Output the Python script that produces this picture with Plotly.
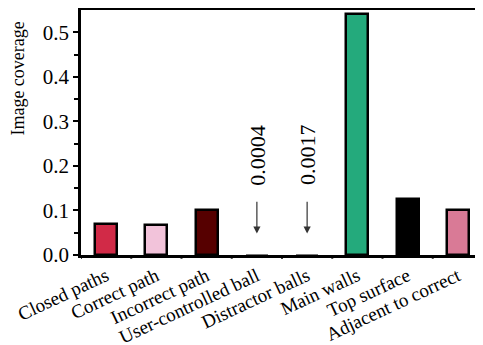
import plotly.graph_objects as go

categories = ["Closed paths", "Correct path", "Incorrect path", "User-controlled ball",
              "Distractor balls", "Main walls", "Top surface", "Adjacent to correct"]
values = [0.070, 0.067, 0.100, 0.0004, 0.0017, 0.541, 0.125, 0.101]
colors = ["#D12A47", "#F2C3DA", "#560000", "#7a7a7a", "#7a7a7a", "#24AA7C", "#000000", "#D97A96"]
annot_idx = [3, 4]
annot_text = ["0.0004", "0.0017"]
yticks = [0.0, 0.1, 0.2, 0.3, 0.4, 0.5]

FONT = "Liberation Serif"
x = list(range(len(categories)))
line_w = [2.5 if v > 0.01 else 0 for v in values]

# page body has an 8px margin, so the figure is sized to fit the window
W, H = 475, 337
ML, MT, MR, MB = 73, 2, 0, 90

fig = go.Figure()
fig.add_trace(go.Bar(
    x=x, y=values, width=0.44,
    marker=dict(color=colors, line=dict(color="black", width=line_w)),
))

for i, t in zip(annot_idx, annot_text):
    fig.add_annotation(x=i, y=0.048, xref="x", yref="y", text="", showarrow=True,
                       ax=i, ay=0.123, axref="x", ayref="y",
                       arrowhead=2, arrowsize=1.2, arrowwidth=1.2, arrowcolor="#333")
    fig.add_annotation(x=i + 0.02, y=0.152, xref="x", yref="y", text=t, showarrow=False,
                       textangle=-90, yanchor="bottom", font=dict(family=FONT, size=22, color="black"))

# y-axis title placed like the reference (shifted upward)
fig.add_annotation(x=-(ML - 10) / (W - ML - MR), y=0.72, xref="paper", yref="paper",
                   text="Image coverage", showarrow=False, textangle=-90,
                   xanchor="center", yanchor="middle",
                   font=dict(family=FONT, size=18, color="black"))

fig.update_layout(
    width=W, height=H,
    margin=dict(l=ML, r=MR, t=MT, b=MB),
    plot_bgcolor="white", paper_bgcolor="white",
    showlegend=False, bargap=0,
    font=dict(family=FONT, color="black"),
)
fig.update_xaxes(
    range=[-0.5, 7.5], tickmode="array", tickvals=x, ticktext=categories,
    tickangle=-25, tickfont=dict(family=FONT, size=19, color="black"),
    showline=True, linecolor="black", linewidth=2.5, mirror=True,
    showgrid=False, ticks="", zeroline=False, automargin=False,
)
# boundary ticks on x axis
for b in [-0.5 + k for k in range(9)]:
    fig.add_shape(type="line", xref="x", yref="paper", x0=b, x1=b, y0=0, y1=-0.015,
                  line=dict(color="black", width=2))
fig.update_yaxes(
    range=[0, 0.55], tickvals=yticks, ticktext=[f"{v:.1f}" for v in yticks],
    tickfont=dict(family=FONT, size=21, color="black"),
    showline=True, linecolor="black", linewidth=2.5,
    ticks="outside", ticklen=5, tickwidth=2, tickcolor="black",
    minor=dict(tickvals=[0.05, 0.15, 0.25, 0.35, 0.45], ticks="outside", ticklen=4,
               tickwidth=2, tickcolor="black"),
    showgrid=False, zeroline=False, automargin=False,
)

fig.write_html("out.html")
